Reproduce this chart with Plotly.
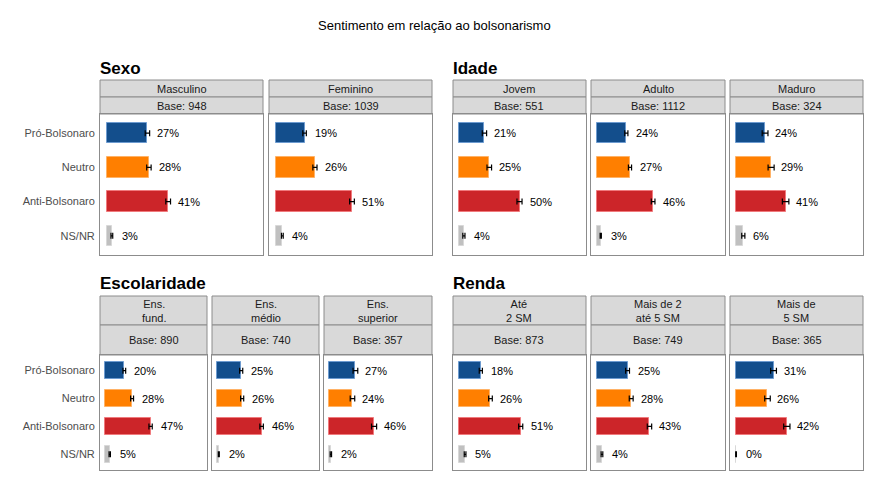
import plotly.graph_objects as go

# page offset (browser body margin) compensation
OX, OY = 8, 8
W, H = 864, 480
FONT = "Liberation Sans, Arial, sans-serif"

title = "Sentimento em relação ao bolsonarismo"
categories = ["Pró-Bolsonaro", "Neutro", "Anti-Bolsonaro", "NS/NR"]
colors = ["#134e8c", "#ff7f00", "#cc2529", "#c0c0c0"]
edge_colors = ["#6d9bd0", "#ffb266", "#f07a7d", "#d8d8d8"]

# group titles
group_titles = ["Sexo", "Idade", "Escolaridade", "Renda"]

# panel names (strip labels) per group
sexo_labels = ["Masculino", "Feminino"]
idade_labels = ["Jovem", "Adulto", "Maduro"]
escol_labels = ["Ens.<br>fund.", "Ens.<br>médio", "Ens.<br>superior"]
renda_labels = ["Até<br>2 SM", "Mais de 2<br>até 5 SM", "Mais de<br>5 SM"]

# bases
sexo_bases = [948, 1039]
idade_bases = [551, 1112, 324]
escol_bases = [890, 740, 357]
renda_bases = [873, 749, 365]

# values (%) in category order: Pró, Neutro, Anti, NS/NR
masculino = [27, 28, 41, 3]
feminino = [19, 26, 51, 4]
jovem = [21, 25, 50, 4]
adulto = [24, 27, 46, 3]
maduro = [24, 29, 41, 6]
ens_fund = [20, 28, 47, 5]
ens_medio = [25, 26, 46, 2]
ens_superior = [27, 24, 46, 2]
ate_2sm = [18, 26, 51, 5]
de2_a_5sm = [25, 28, 43, 4]
mais_5sm = [31, 26, 42, 0]

# error half-widths (percentage points), estimated
err_masculino = [1.5, 1.5, 1.6, 0.6]
err_feminino = [1.2, 1.4, 1.6, 0.6]
err_jovem = [1.8, 1.9, 2.1, 0.9]
err_adulto = [1.3, 1.3, 1.5, 0.5]
err_maduro = [2.4, 2.5, 2.7, 1.3]
err_ens_fund = [1.4, 1.5, 1.7, 0.7]
err_ens_medio = [1.6, 1.6, 1.8, 0.5]
err_ens_superior = [2.4, 2.3, 2.6, 0.7]
err_ate_2sm = [1.3, 1.5, 1.7, 0.7]
err_de2_a_5sm = [1.6, 1.6, 1.8, 0.7]
err_mais_5sm = [2.4, 2.3, 2.6, 0.3]

# layout geometry (pixels, in screenshot coordinates)
top = dict(strip1=(80, 97), strip2=(97, 114), plot=(114, 255), title_y=68)
bot = dict(strip1=(296, 325), strip2=(325, 355), plot=(355, 470), title_y=283)

panels = [
    # (row, x0, x1, label, base, values, errors, show_y, group_title)
    (top, 100, 263, sexo_labels[0], sexo_bases[0], masculino, err_masculino, True, group_titles[0]),
    (top, 269, 432, sexo_labels[1], sexo_bases[1], feminino, err_feminino, False, None),
    (top, 453, 586, idade_labels[0], idade_bases[0], jovem, err_jovem, False, group_titles[1]),
    (top, 591, 725, idade_labels[1], idade_bases[1], adulto, err_adulto, False, None),
    (top, 730, 863, idade_labels[2], idade_bases[2], maduro, err_maduro, False, None),
    (bot, 100, 207, escol_labels[0], escol_bases[0], ens_fund, err_ens_fund, True, group_titles[2]),
    (bot, 212, 319, escol_labels[1], escol_bases[1], ens_medio, err_ens_medio, False, None),
    (bot, 324, 432, escol_labels[2], escol_bases[2], ens_superior, err_ens_superior, False, None),
    (bot, 453, 586, renda_labels[0], renda_bases[0], ate_2sm, err_ate_2sm, False, group_titles[3]),
    (bot, 591, 725, renda_labels[1], renda_bases[1], de2_a_5sm, err_de2_a_5sm, False, None),
    (bot, 730, 863, renda_labels[2], renda_bases[2], mais_5sm, err_mais_5sm, False, None),
]

def px(x):
    return (x - OX) / W

def py(y):
    return 1 - (y - OY) / H

fig = go.Figure()
layout = {}
shapes = []
annotations = []
BORDER = "#8c8c8c"

for i, (row, x0, x1, label, base, vals, errs, show_y, gtitle) in enumerate(panels):
    n = i + 1
    xa = "xaxis" if n == 1 else f"xaxis{n}"
    ya = "yaxis" if n == 1 else f"yaxis{n}"
    xr = "x" if n == 1 else f"x{n}"
    yr = "y" if n == 1 else f"y{n}"
    p0, p1 = row["plot"]
    layout[xa] = dict(domain=[px(x0), px(x1)], anchor=yr, range=[-5, 105],
                      showgrid=False, zeroline=False, showticklabels=False,
                      showline=True, mirror=True, linecolor=BORDER, linewidth=1,
                      fixedrange=True)
    layout[ya] = dict(domain=[py(p1), py(p0)], anchor=xr, type="category",
                      categoryorder="array", categoryarray=categories,
                      range=[3.56, -0.56], showgrid=False, zeroline=False,
                      showticklabels=show_y, ticks="", ticklabelstandoff=2,
                      tickfont=dict(size=11, color="#4d4d4d", family=FONT),
                      showline=True, mirror=True, linecolor=BORDER, linewidth=1,
                      fixedrange=True)
    fig.add_trace(go.Bar(
        x=vals, y=categories, orientation="h", xaxis=xr, yaxis=yr,
        width=0.6,
        marker=dict(color=colors, line=dict(color=edge_colors, width=1)),
        error_x=dict(type="data", array=errs, visible=True, color="black",
                     thickness=1.2, width=3),
        showlegend=False, hoverinfo="x+y",
    ))
    for c, v in zip(categories, vals):
        annotations.append(dict(x=v, y=c, xref=xr, yref=yr, text=f"{v}%",
                                showarrow=False, xanchor="left", xshift=8,
                                font=dict(size=11, color="black", family=FONT)))
    # strips
    s1a, s1b = row["strip1"]
    s2a, s2b = row["strip2"]
    for (a, b) in [(s1a, s1b), (s2a, s2b)]:
        shapes.append(dict(type="rect", xref="paper", yref="paper",
                           x0=px(x0), x1=px(x1), y0=py(b), y1=py(a),
                           fillcolor="#d9d9d9", line=dict(color=BORDER, width=1),
                           layer="below"))
    annotations.append(dict(x=px((x0 + x1) / 2), y=py((s1a + s1b) / 2), xref="paper", yref="paper",
                            text=label, showarrow=False, xanchor="center", yanchor="middle",
                            font=dict(size=11, color="#1a1a1a", family=FONT)))
    annotations.append(dict(x=px((x0 + x1) / 2), y=py((s2a + s2b) / 2), xref="paper", yref="paper",
                            text=f"Base: {base}", showarrow=False, xanchor="center", yanchor="middle",
                            font=dict(size=11, color="#1a1a1a", family=FONT)))
    if gtitle:
        annotations.append(dict(x=px(x0), y=py(row["title_y"]), xref="paper", yref="paper",
                                text=f"<b>{gtitle}</b>", showarrow=False, xanchor="left",
                                yanchor="middle", xshift=-2,
                                font=dict(size=17, color="black", family=FONT)))

annotations.append(dict(x=px(434), y=py(26), xref="paper", yref="paper", text=title,
                        showarrow=False, xanchor="center", yanchor="middle",
                        font=dict(size=13, color="black", family=FONT)))

fig.update_layout(
    width=W, height=H, margin=dict(l=0, r=0, t=0, b=0),
    paper_bgcolor="white", plot_bgcolor="white",
    shapes=shapes, annotations=annotations, bargap=0,
    font=dict(family=FONT),
    **layout,
)

fig.write_html("out.html")
